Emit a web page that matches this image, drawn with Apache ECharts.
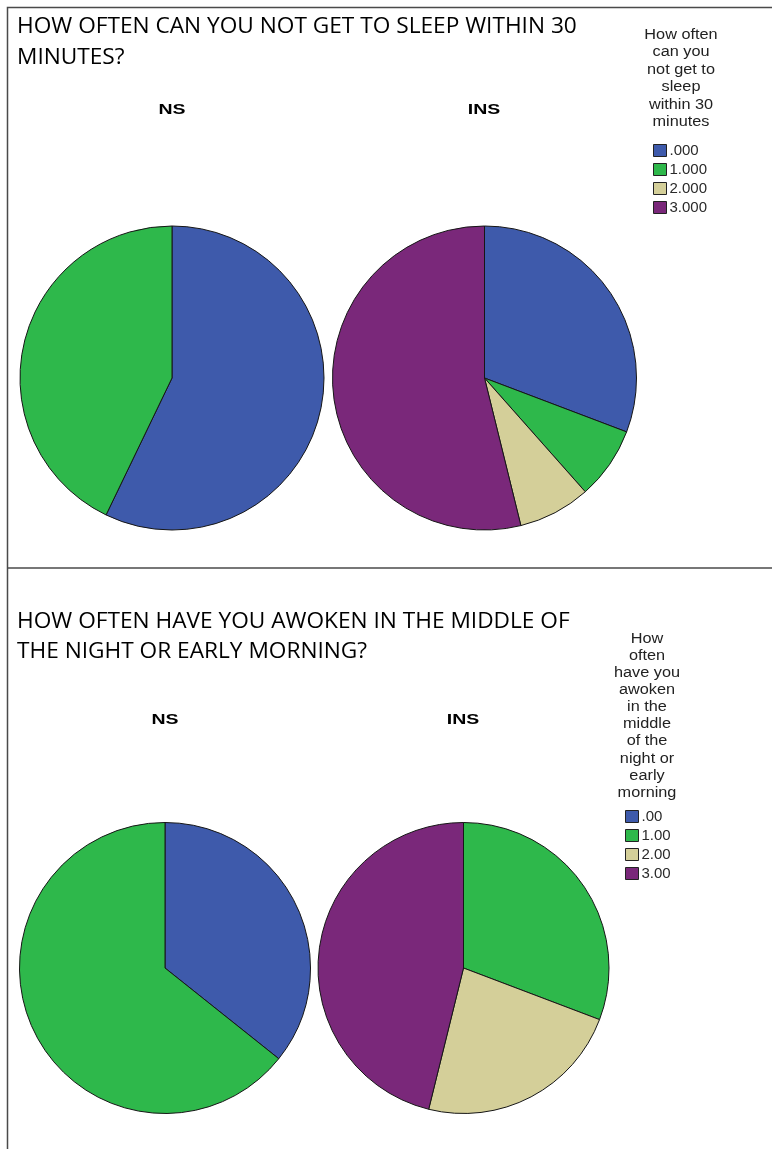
<!DOCTYPE html>
<html>
<head>
<meta charset="utf-8">
<script src="https://cdn.jsdelivr.net/npm/echarts@6/dist/echarts.min.js"></script>
<style>
  html, body { margin: 0; padding: 0; background: #fff; }
  #chart { width: 772px; height: 1149px; }
</style>
</head>
<body>
<div id="chart"></div>
<script>
// Response categories for each question
const sleepCategories = ['.000', '1.000', '2.000', '3.000'];
const wakeCategories = ['.00', '1.00', '2.00', '3.00'];
const groups = ['NS', 'INS'];

// Counts per category (order follows the category arrays)
const sleepNS = [4, 3, 0, 0];
const sleepINS = [4, 1, 1, 7];
const wakeNS = [5, 9, 0, 0];
const wakeINS = [0, 4, 3, 6];

const titleSleep = ['HOW OFTEN CAN YOU NOT GET TO SLEEP WITHIN 30', 'MINUTES?'];
const titleWake = ['HOW OFTEN HAVE YOU AWOKEN IN THE MIDDLE OF', 'THE NIGHT OR EARLY MORNING?'];
const legendTitleSleep = ['How often', 'can you', 'not get to', 'sleep', 'within 30', 'minutes'];
const legendTitleWake = ['How', 'often', 'have you', 'awoken', 'in the', 'middle', 'of the', 'night or', 'early', 'morning'];

const palette = ['#3e5aab', '#2eb84b', '#d4cf99', '#7a287a'];

const chart = echarts.init(document.getElementById('chart'), null, { renderer: 'canvas' });

function pieSeries(name, cats, values, center, radius) {
  return {
    type: 'pie',
    name: name,
    center: center,
    radius: radius,
    startAngle: 90,
    clockwise: true,
    avoidLabelOverlap: false,
    label: { show: false },
    labelLine: { show: false },
    emphasis: { disabled: true },
    silent: true,
    itemStyle: { borderColor: '#161616', borderWidth: 1 },
    data: cats.map((c, i) => ({
      name: c,
      value: values[i],
      itemStyle: { color: palette[i] }
    })).filter(d => d.value > 0)
  };
}

function legend(cats, left, top) {
  return {
    orient: 'vertical',
    left: left,
    top: top,
    data: cats,
    icon: 'rect',
    itemWidth: 13,
    itemHeight: 12,
    itemGap: 4,
    selectedMode: false,
    padding: 0,
    itemStyle: { borderColor: '#222', borderWidth: 1 },
    textStyle: {
      fontFamily: 'Liberation Sans, Arial, sans-serif',
      fontSize: 15,
      lineHeight: 14,
      color: '#2a2a2a',
      padding: [0, 0, 0, -2]
    }
  };
}

const titleFont = '22px "Open Sans", sans-serif';
const headFont = 'bold 15px "Liberation Sans", Arial, sans-serif';
const legTitleFont = '15.5px "Liberation Sans", Arial, sans-serif';

function text(str, x, y, font, align, extra) {
  return Object.assign({
    type: 'text',
    x: x,
    y: y,
    silent: true,
    style: {
      text: str,
      font: font,
      fill: '#000',
      align: align || 'left',
      verticalAlign: 'middle'
    }
  }, extra || {});
}

const titleScale = { scaleX: 1.03, originX: 0 };
const headScale = { scaleX: 1.3, originX: 0 };
const borderColor = '#4a4a4a';

chart.setOption({
  animation: false,
  backgroundColor: '#ffffff',
  legend: [
    legend(sleepCategories, 653, 143),
    legend(wakeCategories, 625, 809)
  ],
  series: [
    pieSeries(groups[0], sleepCategories, sleepNS, [172, 378], 152),
    pieSeries(groups[1], sleepCategories, sleepINS, [484.5, 378], 152),
    pieSeries(groups[0], wakeCategories, wakeNS, [165, 968], 145.5),
    pieSeries(groups[1], wakeCategories, wakeINS, [463.5, 968], 145.5)
  ],
  graphic: [
    // frame lines
    { type: 'polyline', silent: true,
      shape: { points: [[772, 7.5], [7.5, 7.5], [7.5, 1149]] },
      style: { stroke: borderColor, lineWidth: 1.5, fill: null } },
    { type: 'line', silent: true,
      shape: { x1: 7.5, y1: 568, x2: 772, y2: 568 },
      style: { stroke: borderColor, lineWidth: 1.5 } },

    // question titles
    text(titleSleep[0], 17, 27, titleFont, 'left', titleScale),
    text(titleSleep[1], 17, 58, titleFont, 'left', titleScale),
    text(titleWake[0], 17, 622, titleFont, 'left', titleScale),
    text(titleWake[1], 17, 652, titleFont, 'left', titleScale),

    // group headers
    text(groups[0], 172, 110, headFont, 'center', headScale),
    text(groups[1], 484, 110, headFont, 'center', headScale),
    text(groups[0], 165, 720, headFont, 'center', headScale),
    text(groups[1], 463, 720, headFont, 'center', headScale),

    // legend titles
    {
      type: 'text', silent: true, x: 681, y: 26, scaleX: 1.05,
      style: { text: legendTitleSleep.join('\n'), font: legTitleFont, fill: '#222',
               align: 'center', verticalAlign: 'top', lineHeight: 17.4 }
    },
    {
      type: 'text', silent: true, x: 647, y: 630, scaleX: 1.05,
      style: { text: legendTitleWake.join('\n'), font: legTitleFont, fill: '#222',
               align: 'center', verticalAlign: 'top', lineHeight: 17.1 }
    }
  ]
});
</script>
</body>
</html>
